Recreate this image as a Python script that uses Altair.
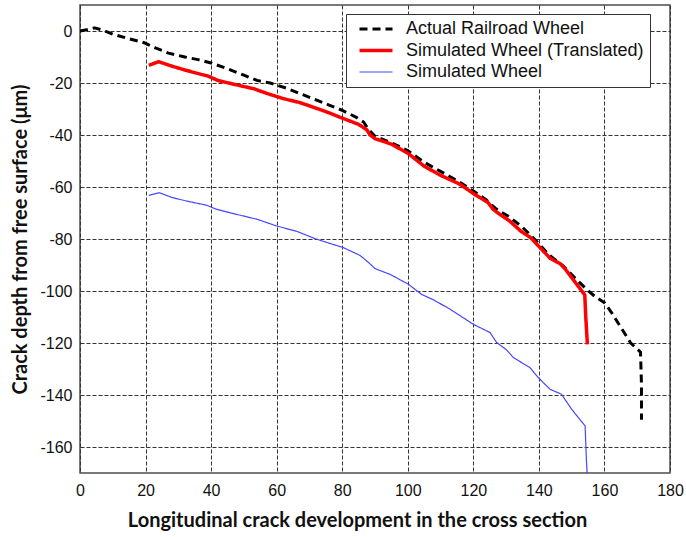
import altair as alt
import pandas as pd

series_names = ["Actual Railroad Wheel", "Simulated Wheel (Translated)", "Simulated Wheel"]

actual_x = [0, 2, 4.5, 7, 10, 15, 19.5, 23, 27, 32, 36, 40, 45, 50, 54, 58, 63, 68, 72, 76,
            80, 84, 86.5, 88, 90, 95, 100, 105, 110, 115, 120, 124, 127, 131, 135, 139, 143,
            147.5, 151, 154.5, 157, 160, 162, 165, 168, 171, 171.3, 171.3]
actual_y = [0, 0.5, 1.2, 0.3, -1.2, -3, -4.5, -6.5, -8.5, -10, -11, -12.3, -14.5, -17, -19, -20,
            -22, -24.5, -26.5, -28.5, -30.5, -33, -35, -37.8, -40.5, -43, -46, -50.5, -54, -57.5,
            -61.5, -65, -68.5, -71.5, -75.5, -80.5, -86, -90.5, -95, -99.3, -102, -104.5, -108,
            -114, -120, -123.5, -136, -149.5]

translated_x = [21, 24, 28, 32, 37, 39, 42, 47, 53, 57, 62, 67, 70, 75, 80, 85, 87.5, 88.5, 90,
                95, 100, 102, 105, 110, 116, 120, 124.5, 126, 127.5, 131, 134.5, 137.5, 140.5,
                143.5, 146.5, 148, 151, 154, 154.3, 154.8]
translated_y = [-13.2, -11.8, -13.5, -15, -16.7, -17.3, -19, -20.5, -22.2, -24, -26, -27.5, -28.8,
                -31, -33.5, -35.9, -38, -40, -41.4, -43.5, -47, -49, -52, -55.5, -59, -62.5, -66,
                -68.5, -70, -73, -77, -79.5, -83.5, -87.5, -89.5, -91.5, -96.5, -101.5, -110, -120.5]

simulated_x = [21, 24.2, 28, 32.5, 38.6, 41.7, 46, 54, 60, 66, 72, 80.3, 85.4, 88, 90, 94.6,
               100.2, 104.2, 108, 112.9, 120, 125.1, 127.1, 130, 132.2, 137.3, 139.8, 143.4,
               146.9, 150, 154.1, 154.5, 154.8]
simulated_y = [-63.2, -62.2, -64, -65.4, -67, -68.6, -70, -72.4, -75, -77, -80, -83.3, -86.3,
               -89, -91.4, -93.6, -97.4, -101.3, -103.5, -107, -112.8, -116, -119.8, -122.5,
               -125.6, -129.5, -133.3, -137.8, -139.7, -145.5, -151.9, -165, -172]

x_ticks = [0, 20, 40, 60, 80, 100, 120, 140, 160, 180]
y_ticks = [-160, -140, -120, -100, -80, -60, -40, -20, 0]

rows = []
for name, xs, ys in [
    (series_names[0], actual_x, actual_y),
    (series_names[1], translated_x, translated_y),
    (series_names[2], simulated_x, simulated_y),
]:
    for i, (x, y) in enumerate(zip(xs, ys)):
        rows.append({"series": name, "x": x, "y": y, "i": i})
df = pd.DataFrame(rows)

legend = alt.Legend(
    title=None,
    orient="none",
    legendX=266,
    legendY=9,
    symbolType="M-1,0H5",
    symbolSize=121,
    symbolOffset=4,
    labelOffset=32,
    labelFont="Liberation Sans",
    labelFontSize=18,
    labelColor="#111111",
    labelLimit=400,
    rowPadding=3.5,
    padding=6,
    strokeColor="#333333",
    fillColor="white",
    cornerRadius=0,
)

chart = (
    alt.Chart(df)
    .mark_line(clip=True, strokeJoin="round")
    .encode(
        x=alt.X(
            "x:Q",
            scale=alt.Scale(domain=[0, 180], nice=False, zero=False),
            axis=alt.Axis(
                values=x_ticks,
                title="Longitudinal crack development in the cross section",
                titleX=277,
            ),
        ),
        y=alt.Y(
            "y:Q",
            scale=alt.Scale(domain=[-170, 10], nice=False, zero=False),
            axis=alt.Axis(
                values=y_ticks,
                labelExpr="'' + datum.value",
                title="Crack depth from free surface (μm)",
            ),
        ),
        color=alt.Color(
            "series:N",
            scale=alt.Scale(domain=series_names, range=["#000000", "#ff0000", "#4646ff"]),
            legend=legend,
        ),
        strokeDash=alt.StrokeDash(
            "series:N",
            scale=alt.Scale(domain=series_names, range=[[8, 5], [1, 0], [1, 0]]),
            legend=legend,
        ),
        strokeWidth=alt.StrokeWidth(
            "series:N",
            scale=alt.Scale(type="ordinal", domain=series_names, range=[3, 3.5, 1.2]),
            legend=legend,
        ),
        order="i:Q",
    )
    .properties(
        width=590,
        height=468,
        autosize=alt.AutoSizeParams(type="none"),
        padding={"left": 80, "top": 5, "right": 16, "bottom": 64},
    )
    .configure_view(stroke="#4d4d4d", strokeWidth=1.5)
    .configure_axis(
        domain=False,
        ticks=False,
        grid=True,
        gridColor="#333333",
        gridDash=[4, 2],
        gridWidth=1,
        gridOpacity=1,
        labelFont="Liberation Sans",
        labelFontSize=16,
        labelColor="#111111",
        labelFlush=False,
        titleFont="Lato",
        titleFontWeight="bold",
        titleFontSize=20,
        titleColor="#111111",
    )
    .configure_axisX(labelPadding=9, titlePadding=12)
    .configure_axisY(labelPadding=8, titlePadding=9)
)

chart.save("out.html", embed_options={"renderer": "svg", "actions": False})
